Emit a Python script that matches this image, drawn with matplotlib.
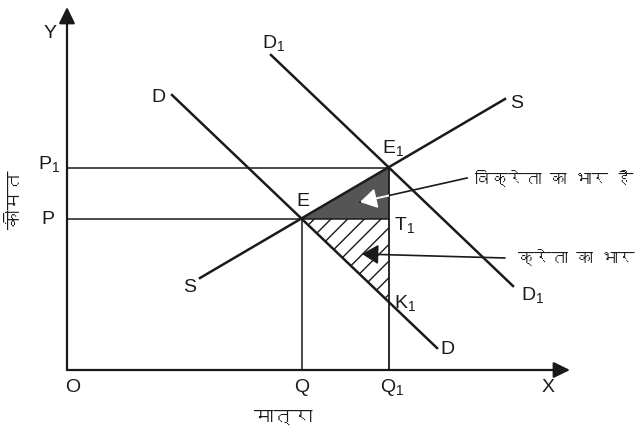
import matplotlib
matplotlib.use("Agg")
import matplotlib.pyplot as plt
from matplotlib.patches import Polygon
from matplotlib import font_manager
from matplotlib.ft2font import FT2Font

# Chart data (quantity on x, price on y, arbitrary units)
x_max, y_max = 50.3, 36.3
supply_q = [13.3, 43.8]
supply_p = [9.2, 27.1]
demand_q = [10.5, 37.0]
demand_p = [27.5, 2.2]
demand1_q = [20.4, 44.6]
demand1_p = [31.5, 8.4]
Q, Q1 = 23.5, 32.2
P, P1 = 15.1, 20.2
K1 = 6.8

x_title = "मात्रा"
y_title = "कीमत"
seller_text = "विक्रेता का भार है"
buyer_text = "क्रेता का भार"


def devanagari_family():
    # pick any installed font that has Devanagari glyphs
    for f in font_manager.fontManager.ttflist:
        try:
            if 0x0915 in FT2Font(f.fname).get_charmap():
                return f.name
        except Exception:
            pass
    return "DejaVu Sans"


hindi = [devanagari_family(), "DejaVu Sans"]

plt.rcParams["font.family"] = ["Liberation Sans", "DejaVu Sans"]
plt.rcParams["mathtext.fontset"] = "custom"
plt.rcParams["mathtext.rm"] = "Liberation Sans"
plt.rcParams["mathtext.it"] = "Liberation Sans"
plt.rcParams["hatch.linewidth"] = 1.0

fig = plt.figure(figsize=(6.4, 4.3), dpi=100)
ax = fig.add_axes([0, 0, 1, 1])
ax.set_xlim(-6.7, 57.3)
ax.set_ylim(-6.0, 37.0)
ax.axis("off")

ink = "#1a1a1a"

# shaded areas
seller = Polygon([(Q, P), (Q1, P1), (Q1, P)], closed=True, facecolor="#555555",
                 edgecolor="none", zorder=1)
ax.add_patch(seller)
buyer = Polygon([(Q, P), (Q1, P), (Q1, K1)], closed=True, facecolor="none",
                edgecolor=ink, hatch="//", lw=0, zorder=1)
ax.add_patch(buyer)

# axes with arrows
axis_arrow = dict(arrowstyle="-|>,head_length=0.45,head_width=0.22", color=ink,
                  lw=1.6, shrinkA=0, shrinkB=0, mutation_scale=22)
ax.annotate("", xy=(x_max, 0), xytext=(0, 0), arrowprops=axis_arrow)
ax.annotate("", xy=(0, y_max), xytext=(0, 0), arrowprops=axis_arrow)

# guide lines
ax.plot([0, Q1], [P, P], color=ink, lw=1.1, zorder=2)
ax.plot([0, Q1], [P1, P1], color=ink, lw=1.1, zorder=2)
ax.plot([Q, Q], [0, P], color=ink, lw=1.1, zorder=2)
ax.plot([Q1, Q1], [0, P1], color=ink, lw=1.3, zorder=2)

# supply and demand curves
ax.plot(supply_q, supply_p, color=ink, lw=1.8, zorder=3)
ax.plot(demand_q, demand_p, color=ink, lw=1.8, zorder=3)
ax.plot(demand1_q, demand1_p, color=ink, lw=1.8, zorder=3)

# labels
fs = 14
lab = dict(fontsize=fs, ha="center", va="center", color=ink)
ax.text(-1.7, 33.7, "Y", **lab)
ax.text(x_max - 2.2, -1.7, "X", **lab)
ax.text(0.6, -1.8, "O", **lab)
ax.text(Q, -1.8, "Q", **lab)
ax.text(Q1 + 0.3, -1.8, r"Q$_{\mathregular{1}}$", **lab)
ax.text(-1.8, P1 + 0.4, r"P$_{\mathregular{1}}$", **lab)
ax.text(-1.9, P, "P", **lab)
ax.text(Q + 0.1, P + 1.7, "E", **lab)
ax.text(Q1 + 0.4, P1 + 2.0, r"E$_{\mathregular{1}}$", **lab)
ax.text(Q1 + 1.5, P - 0.6, r"T$_{\mathregular{1}}$", **lab)
ax.text(Q1 + 1.6, K1 - 0.1, r"K$_{\mathregular{1}}$", **lab)
ax.text(supply_q[1] + 1.2, supply_p[1] - 0.4, "S", **lab)
ax.text(supply_q[0] - 1.0, supply_p[0] - 0.9, "S", **lab)
ax.text(demand_q[0] - 1.4, demand_p[0] - 0.2, "D", **lab)
ax.text(demand_q[1] + 1.0, demand_p[1] - 0.2, "D", **lab)
ax.text(demand1_q[0] + 0.3, demand1_p[0] + 1.2, r"D$_{\mathregular{1}}$", **lab)
ax.text(demand1_q[1] + 2.0, demand1_p[1] - 0.9, r"D$_{\mathregular{1}}$", **lab)

ax.text(Q - 1.9, -4.7, x_title, fontsize=fs, ha="center", va="center",
        family=hindi, color=ink)
ax.text(-5.2, 17.0, y_title, fontsize=fs, ha="center", va="center",
        rotation=90, family=hindi, color=ink)

# burden annotations
seller_start = (40.0, 19.2)
seller_tip = (29.3, 16.8)
ax.plot([seller_start[0], seller_tip[0]], [seller_start[1], seller_tip[1]],
        color=ink, lw=1.2, zorder=4)
white_arrow = ax.annotate("", xy=seller_tip, xytext=seller_start,
                          arrowprops=dict(arrowstyle="-|>,head_length=0.5,head_width=0.3",
                                          color="white", lw=1.4, shrinkA=0, shrinkB=0,
                                          mutation_scale=20), zorder=5)
white_arrow.arrow_patch.set_clip_path(seller)
t_seller = ax.text(seller_start[0] + 0.8, seller_start[1], seller_text, fontsize=fs,
                   ha="left", va="center", family=hindi, color=ink)

buyer_start = (43.8, 11.2)
buyer_tip = (29.5, 11.6)
ax.annotate("", xy=buyer_tip, xytext=buyer_start,
            arrowprops=dict(arrowstyle="-|>,head_length=0.5,head_width=0.3",
                            color=ink, lw=1.2, shrinkA=0, shrinkB=0,
                            mutation_scale=20), zorder=5)
t_buyer = ax.text(buyer_start[0] + 1.3, buyer_start[1], buyer_text, fontsize=fs,
                  ha="left", va="center", family=hindi, color=ink)

# shrink the hindi notes until they fit inside the picture
renderer = fig.canvas.get_renderer()
for t in (t_seller, t_buyer):
    size = fs
    while size > 7 and t.get_window_extent(renderer).x1 > 636:
        size -= 0.5
        t.set_fontsize(size)

fig.savefig("out.png", dpi=100, facecolor="white")
plt.close(fig)
